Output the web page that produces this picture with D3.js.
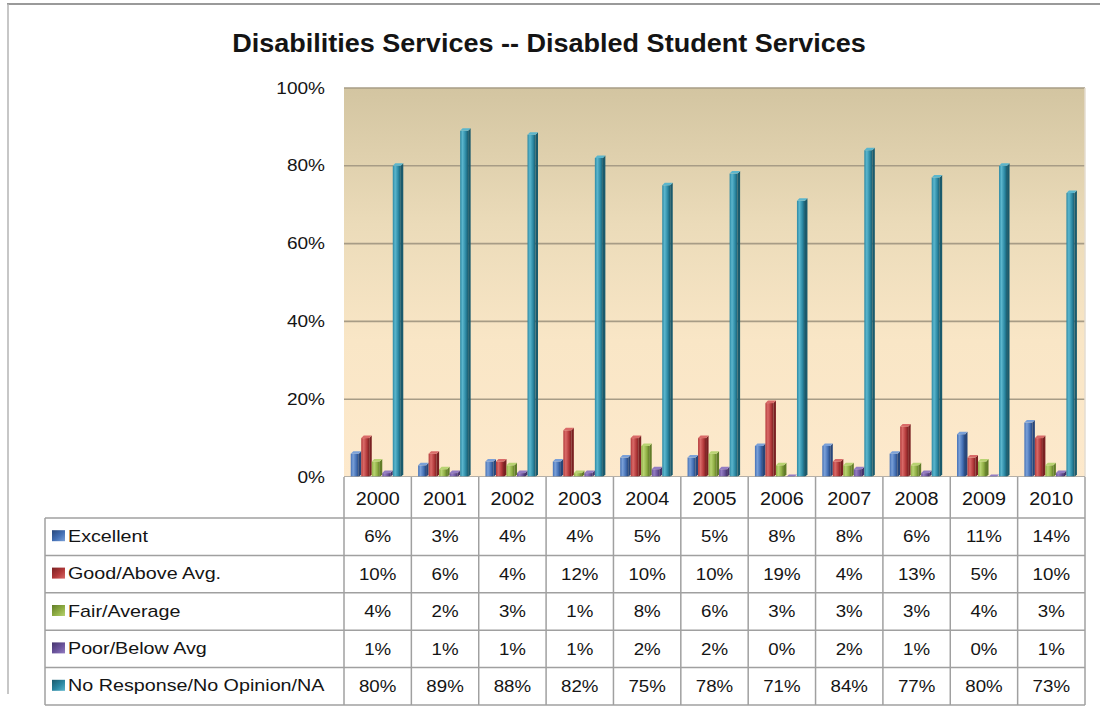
<!DOCTYPE html>
<html>
<head>
<meta charset="utf-8">
<script src="https://cdn.jsdelivr.net/npm/d3@7"></script>
<style>
  html, body { margin: 0; padding: 0; background: #fff; }
  svg { display: block; }
  text { font-family: "Liberation Sans", Arial, sans-serif; fill: #141414; }
</style>
</head>
<body>
<svg id="chart" width="1100" height="714"></svg>
<script>
// ---- data ----
const years = ["2000","2001","2002","2003","2004","2005","2006","2007","2008","2009","2010"];
const seriesNames = ["Excellent","Good/Above Avg.","Fair/Average","Poor/Below Avg","No Response/No Opinion/NA"];
const excellent = [6, 3, 4, 4, 5, 5, 8, 8, 6, 11, 14];
const good      = [10, 6, 4, 12, 10, 10, 19, 4, 13, 5, 10];
const fair      = [4, 2, 3, 1, 8, 6, 3, 3, 3, 4, 3];
const poor      = [1, 1, 1, 1, 2, 2, 0, 2, 1, 0, 1];
const noResp    = [80, 89, 88, 82, 75, 78, 71, 84, 77, 80, 73];
const yTicks    = [0, 20, 40, 60, 80, 100];

const seriesValues = [excellent, good, fair, poor, noResp];
// base / light / dark tones for each series
const seriesColors = [
  { base: "#4470b5", light: "#7aa0d8", dark: "#27467a" },
  { base: "#b3393a", light: "#d96a68", dark: "#7a2022" },
  { base: "#8fae44", light: "#b8d372", dark: "#617c28" },
  { base: "#6b549c", light: "#937cc2", dark: "#45346c" },
  { base: "#2b88a3", light: "#5bb6cd", dark: "#1a5a6c" }
];

// ---- layout ----
const svg = d3.select("#chart");
const plot = { left: 344, right: 1085, top: 88, bottom: 477 };
const table = { left: 45, headerBottom: 518, bottom: 705 };
const rowH = (table.bottom - table.headerBottom) / seriesNames.length;

const x = d3.scaleBand().domain(years).range([plot.left, plot.right]);
const bw = x.bandwidth();
const xs = d3.scaleBand().domain(d3.range(seriesNames.length)).range([bw * 0.1, bw * 0.88]);
const y = d3.scaleLinear().domain([0, 100]).range([plot.bottom, plot.top]);

const defs = svg.append("defs");

// plot wall gradient
const wall = defs.append("linearGradient").attr("id", "wall")
  .attr("x1", 0).attr("y1", 0).attr("x2", 0).attr("y2", 1);
wall.append("stop").attr("offset", "0%").attr("stop-color", "#d3c5a1");
wall.append("stop").attr("offset", "35%").attr("stop-color", "#ebdbb9");
wall.append("stop").attr("offset", "65%").attr("stop-color", "#f9e6c6");
wall.append("stop").attr("offset", "100%").attr("stop-color", "#fde9cc");

// bar face gradients
seriesColors.forEach((c, i) => {
  const g = defs.append("linearGradient").attr("id", "face" + i)
    .attr("x1", 0).attr("y1", 0).attr("x2", 1).attr("y2", 0);
  g.append("stop").attr("offset", "0%").attr("stop-color", c.base);
  g.append("stop").attr("offset", "30%").attr("stop-color", c.light);
  g.append("stop").attr("offset", "70%").attr("stop-color", c.base);
  g.append("stop").attr("offset", "100%").attr("stop-color", c.dark);
  const k = defs.append("linearGradient").attr("id", "key" + i)
    .attr("x1", 0).attr("y1", 0).attr("x2", 1).attr("y2", 1);
  k.append("stop").attr("offset", "0%").attr("stop-color", c.dark);
  k.append("stop").attr("offset", "55%").attr("stop-color", c.base);
  k.append("stop").attr("offset", "100%").attr("stop-color", c.light);
});

// outer frame
svg.append("line").attr("x1", 7).attr("x2", 1100).attr("y1", 4).attr("y2", 4)
  .attr("stroke", "#9a9a9a").attr("stroke-width", 2);
svg.append("line").attr("x1", 8).attr("x2", 8).attr("y1", 4).attr("y2", 694)
  .attr("stroke", "#b5b5b5").attr("stroke-width", 1.5);

// helper: text horizontally stretched about its anchor point
function label(g, str, px, py, opts) {
  const o = Object.assign({ size: 16.5, sx: 1.18, anchor: "middle", weight: "normal", width: null }, opts || {});
  const t = g.append("text")
    .attr("text-anchor", o.anchor)
    .attr("dominant-baseline", "central")
    .style("font-size", o.size + "px")
    .style("font-weight", o.weight)
    .text(str);
  let sx = o.sx;
  if (o.width) sx = o.width / t.node().getComputedTextLength();
  t.attr("transform", `translate(${px},${py}) scale(${sx},1)`);
  return t;
}

// title
label(svg, "Disabilities Services -- Disabled Student Services", 549, 43,
  { size: 25.5, weight: "bold", width: 634 });

// plot wall
svg.append("rect")
  .attr("x", plot.left).attr("y", plot.top)
  .attr("width", plot.right - plot.left).attr("height", plot.bottom - plot.top)
  .attr("fill", "url(#wall)");

// gridlines
svg.append("g").selectAll("line").data(yTicks.filter(d => d > 0)).join("line")
  .attr("x1", plot.left).attr("x2", plot.right)
  .attr("y1", d => y(d)).attr("y2", d => y(d))
  .attr("stroke", "#a79c86").attr("stroke-width", 1.6);
svg.append("line").attr("x1", plot.right).attr("x2", plot.right)
  .attr("y1", plot.top).attr("y2", plot.bottom)
  .attr("stroke", "#e4ddd0").attr("stroke-width", 1.5);

// y axis labels
const yAxis = svg.append("g");
yTicks.forEach(t => label(yAxis, t + "%", 325, y(t), { anchor: "end", size: 17, sx: 1.12 }));

// bars: front face, darker side face, lighter top cap
const depth = 2.5;
const bars = svg.append("g");
years.forEach((yr, ci) => {
  seriesValues.forEach((vals, si) => {
    const v = vals[ci];
    const x0 = x(yr) + xs(si);
    const w = xs.bandwidth();
    const fw = w - depth;
    const top = y(v);
    const c = seriesColors[si];
    bars.append("rect")
      .attr("x", x0).attr("y", top)
      .attr("width", fw).attr("height", plot.bottom - top)
      .attr("fill", `url(#face${si})`);
    bars.append("path")
      .attr("d", `M${x0 + fw},${top} L${x0 + w},${top - depth} L${x0 + w},${plot.bottom - depth} L${x0 + fw},${plot.bottom} Z`)
      .attr("fill", c.dark);
    bars.append("path")
      .attr("d", `M${x0},${top} L${x0 + depth},${top - depth} L${x0 + w},${top - depth} L${x0 + fw},${top} Z`)
      .attr("fill", c.light);
  });
});

// plot baseline
svg.append("line").attr("x1", plot.left).attr("x2", plot.right)
  .attr("y1", plot.bottom).attr("y2", plot.bottom)
  .attr("stroke", "#9c9c9c").attr("stroke-width", 1.5);

// ---- data table ----
const tbl = svg.append("g");
const lineColor = "#a0a0a0";
tbl.append("rect").attr("x", plot.left).attr("y", plot.bottom)
  .attr("width", plot.right - plot.left).attr("height", table.bottom - plot.bottom)
  .attr("fill", "#fff");
// header cells (years)
years.forEach(yr => {
  label(tbl, yr, x(yr) + bw / 2, (plot.bottom + table.headerBottom) / 2 + 1, { size: 17.5, sx: 1.13 });
});
// horizontal rules
d3.range(seriesNames.length + 1).forEach(r => {
  const yy = table.headerBottom + r * rowH;
  tbl.append("line").attr("x1", table.left).attr("x2", plot.right)
    .attr("y1", yy).attr("y2", yy).attr("stroke", lineColor).attr("stroke-width", 1.5);
});
// vertical rules
[plot.left].concat(years.map(yr => x(yr) + bw)).forEach(xx => {
  tbl.append("line").attr("x1", xx).attr("x2", xx)
    .attr("y1", plot.bottom).attr("y2", table.bottom)
    .attr("stroke", lineColor).attr("stroke-width", 1.5);
});
tbl.append("line").attr("x1", table.left).attr("x2", table.left)
  .attr("y1", table.headerBottom).attr("y2", table.bottom)
  .attr("stroke", lineColor).attr("stroke-width", 1.5);

// row labels with legend keys, and values
seriesNames.forEach((name, si) => {
  const cy = table.headerBottom + si * rowH + rowH / 2;
  tbl.append("rect").attr("x", 52).attr("y", cy - 6.5)
    .attr("width", 13).attr("height", 11).attr("fill", `url(#key${si})`);
  label(tbl, name, 68, cy - 1, { anchor: "start", size: 17, sx: 1.16 });
  years.forEach((yr, ci) => {
    label(tbl, seriesValues[si][ci] + "%", x(yr) + bw / 2, cy, { size: 17, sx: 1.1 });
  });
});
</script>
</body>
</html>
